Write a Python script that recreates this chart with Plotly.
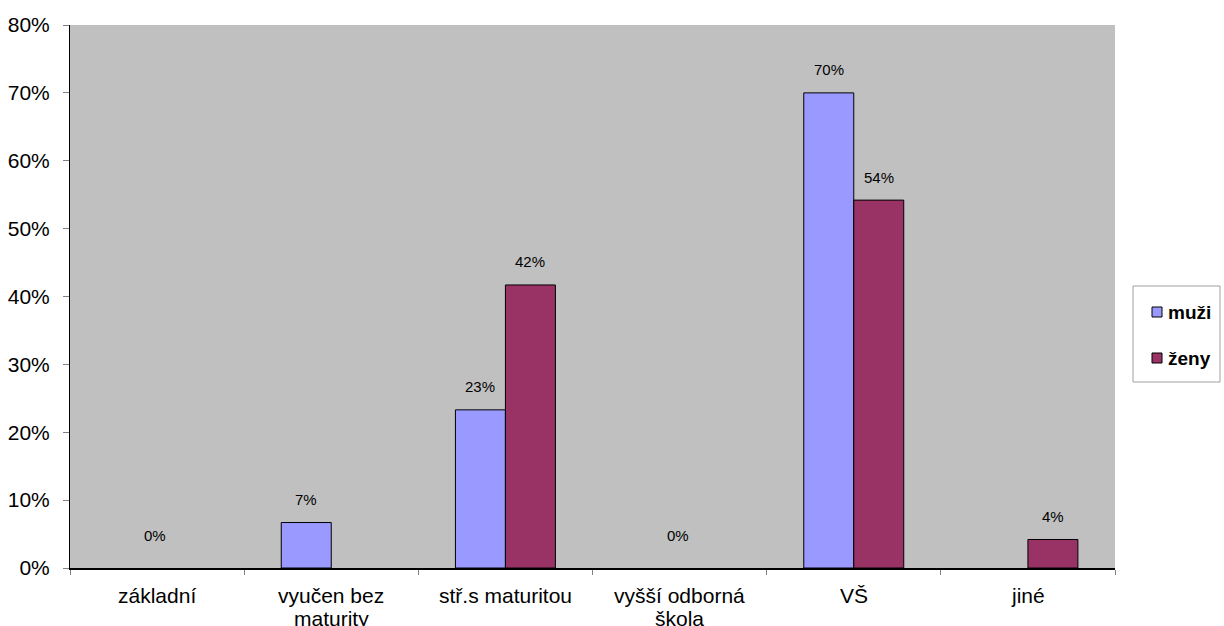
import plotly.graph_objects as go

# Education level categories (x axis); each label may wrap onto two lines
categories = ["základní", "vyučen bez maturity", "stř.s maturitou",
              "vyšší odborná škola", "VŠ", "jiné"]
category_lines = [["základní"], ["vyučen bez", "maturity"], ["stř.s maturitou"],
                  ["vyšší odborná", "škola"], ["VŠ"], ["jiné"]]

# Shares in percent for each group (None = no bar / no label)
muzi = [0, 6.7, 23.3, 0, 70.0, None]
zeny = [None, None, 41.7, None, 54.2, 4.2]

y_ticks = [0, 10, 20, 30, 40, 50, 60, 70, 80]
y_tick_labels = [f"{v}%" for v in y_ticks]

series_names = ["muži", "ženy"]
series_colors = ["#9999FF", "#993366"]

FONT = "Liberation Sans, Arial, sans-serif"
W, H = 1224, 626
ML, MR, MT, MB = 70, 109, 25, 58
PW, PH = W - ML - MR, H - MT - MB


def px_x(px):
    return (px - ML) / PW


def px_y(py):
    return (H - MB - py) / PH


def outline_widths(vals):
    return [0 if (v is None or v == 0) else 1 for v in vals]


fig = go.Figure()
for name, vals, col in zip(series_names, [muzi, zeny], series_colors):
    fig.add_trace(go.Bar(
        name=name, x=categories, y=vals,
        marker=dict(color=col, line=dict(color="#000000", width=outline_widths(vals))),
        showlegend=False,
    ))

annotations = []
# Value labels above bars; zero values are centred over their category
for i, cat in enumerate(categories):
    pairs = [(muzi[i], -25), (zeny[i], 25)]
    nonnull = [p for p in pairs if p[0] is not None]
    if all(v == 0 for v, _ in nonnull):
        for v, _ in nonnull[:1]:
            annotations.append(dict(x=cat, y=v, xshift=-2, yshift=33,
                                    text=f"{round(v)}%", showarrow=False,
                                    font=dict(size=15, color="#000000", family=FONT)))
        continue
    for v, dx in nonnull:
        annotations.append(dict(x=cat, y=v, xshift=dx, yshift=23,
                                text=f"{round(v)}%", showarrow=False,
                                font=dict(size=15, color="#000000", family=FONT)))

# Category labels under the axis, drawn line by line
for cat, lines in zip(categories, category_lines):
    for j, line in enumerate(lines):
        annotations.append(dict(x=cat, xref="x", y=px_y(595 + 23 * j), yref="paper",
                                text=line, showarrow=False, yanchor="middle",
                                font=dict(size=21, color="#000000", family=FONT)))

# Legend box with coloured squares and bold labels
shapes = [dict(type="rect", xref="paper", yref="paper",
               x0=px_x(1133), x1=px_x(1220), y0=px_y(382), y1=px_y(286),
               line=dict(color="#A0A0A0", width=1), fillcolor="#FFFFFF", layer="above")]
for k, (name, col) in enumerate(zip(series_names, series_colors)):
    cy = 312 + 46 * k
    shapes.append(dict(type="rect", xref="paper", yref="paper",
                       x0=px_x(1152), x1=px_x(1162), y0=px_y(cy + 5), y1=px_y(cy - 5),
                       line=dict(color="#000000", width=1), fillcolor=col, layer="above"))
    annotations.append(dict(x=px_x(1166), y=px_y(cy), xref="paper", yref="paper",
                            xanchor="left", yanchor="middle", showarrow=False,
                            text=f"<b>{name}</b>",
                            font=dict(size=19, color="#000000", family=FONT)))

fig.update_layout(
    width=W, height=H,
    margin=dict(l=ML, r=MR, t=MT, b=MB, autoexpand=False),
    paper_bgcolor="#FFFFFF",
    plot_bgcolor="#C0C0C0",
    barmode="group",
    bargap=0.426,
    bargroupgap=0,
    font=dict(family=FONT, color="#000000"),
    showlegend=False,
    annotations=annotations,
    shapes=shapes,
    xaxis=dict(
        type="category",
        showline=True, linecolor="#000000", linewidth=1.5,
        ticks="outside", tickson="boundaries", ticklen=5, tickcolor="#808080",
        showticklabels=False, automargin=False,
        showgrid=False, zeroline=False,
    ),
    yaxis=dict(
        range=[0, 80],
        tickvals=y_ticks, ticktext=y_tick_labels,
        showline=True, linecolor="#000000", linewidth=1,
        ticks="outside", ticklen=6, tickcolor="#808080",
        ticklabelstandoff=9, automargin=False,
        tickfont=dict(size=21, family=FONT, color="#000000"),
        showgrid=False, zeroline=False,
    ),
)

fig.write_html("out.html")
